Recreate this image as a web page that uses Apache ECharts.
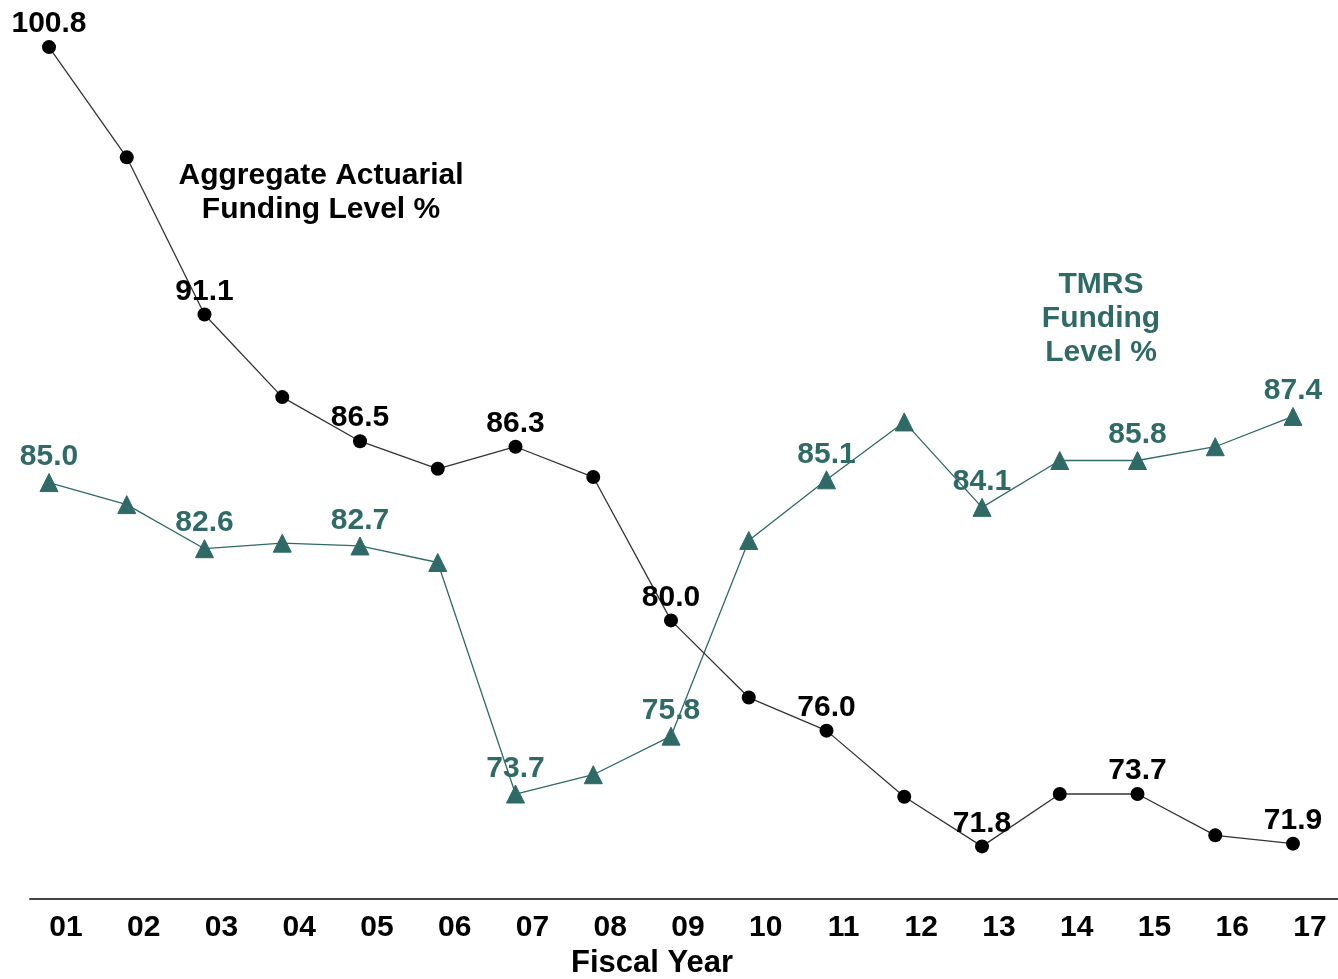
<!DOCTYPE html>
<html>
<head>
<meta charset="utf-8">
<script src="https://cdn.jsdelivr.net/npm/echarts@6/dist/echarts.min.js"></script>
<style>
  html, body { margin: 0; padding: 0; background: #fff; }
  #chart { width: 1338px; height: 979px; }
</style>
</head>
<body>
<div id="chart"></div>
<script>
// Fiscal years on the x axis
const years = ['01','02','03','04','05','06','07','08','09','10','11','12','13','14','15','16','17'];

// Aggregate actuarial funding level (%)
const aggregateLevel = [100.8, 96.8, 91.1, 88.1, 86.5, 85.5, 86.3, 85.2, 80.0, 77.2, 76.0, 73.6, 71.8, 73.7, 73.7, 72.2, 71.9];

// TMRS funding level (%)
const tmrsLevel = [85.0, 84.2, 82.6, 82.8, 82.7, 82.1, 73.7, 74.4, 75.8, 82.9, 85.1, 87.2, 84.1, 85.8, 85.8, 86.3, 87.4];

// Every other year carries a value label
const labelledYears = [0, 2, 4, 6, 8, 10, 12, 14, 16];

const TEAL = '#2f6a67';
const FONT = '"Liberation Sans", Arial, sans-serif';

function withLabels(values, color) {
  return values.map((v, i) => ({
    value: v,
    label: { show: labelledYears.indexOf(i) >= 0, color: color }
  }));
}

const chart = echarts.init(document.getElementById('chart'));

chart.setOption({
  animation: false,
  backgroundColor: '#ffffff',
  textStyle: { fontFamily: FONT },
  grid: [
    { left: 49, right: 45, top: 14, bottom: 83 },
    { left: 30, right: 0, top: 14, bottom: 80 }
  ],
  xAxis: [
    {
      type: 'category',
      gridIndex: 0,
      data: years,
      boundaryGap: false,
      axisLine: { show: false },
      axisTick: { show: false },
      axisLabel: {
        margin: 17,
        padding: [0, 0, 0, 34],
        color: '#000',
        fontSize: 30,
        fontWeight: 'bold',
        fontFamily: FONT
      },
      splitLine: { show: false }
    },
    {
      // baseline rule running across the full width
      type: 'value',
      gridIndex: 1,
      min: 0,
      max: 1,
      axisLine: { show: true, onZero: false, lineStyle: { color: '#444', width: 2 } },
      axisTick: { show: false },
      axisLabel: { show: false },
      splitLine: { show: false }
    }
  ],
  yAxis: [
    {
      type: 'value',
      gridIndex: 0,
      min: 70,
      max: 102,
      show: false,
      splitLine: { show: false }
    },
    {
      type: 'value',
      gridIndex: 1,
      show: false,
      splitLine: { show: false }
    }
  ],
  series: [
    {
      name: 'TMRS Funding Level %',
      type: 'line',
      xAxisIndex: 0,
      yAxisIndex: 0,
      data: withLabels(tmrsLevel, TEAL),
      symbol: 'triangle',
      symbolSize: 18,
      itemStyle: { color: TEAL, borderColor: TEAL, borderWidth: 1, borderJoin: 'round' },
      lineStyle: { color: TEAL, width: 1.3 },
      label: {
        position: 'top',
        distance: 1,
        fontSize: 30,
        fontWeight: 'bold',
        fontFamily: FONT,
        formatter: p => p.value.toFixed(1)
      },
      z: 2
    },
    {
      name: 'Aggregate Actuarial Funding Level %',
      type: 'line',
      xAxisIndex: 0,
      yAxisIndex: 0,
      data: withLabels(aggregateLevel, '#000'),
      symbol: 'circle',
      symbolSize: 14,
      itemStyle: { color: '#000' },
      lineStyle: { color: '#333', width: 1.3 },
      label: {
        position: 'top',
        distance: 1,
        fontSize: 30,
        fontWeight: 'bold',
        fontFamily: FONT,
        formatter: p => p.value.toFixed(1)
      },
      z: 3
    }
  ],
  graphic: [
    {
      type: 'text',
      x: 321, y: 193,
      style: {
        text: 'Aggregate Actuarial\nFunding Level %',
        fill: '#000',
        font: 'bold 30px ' + FONT,
        align: 'center',
        verticalAlign: 'middle',
        lineHeight: 34
      }
    },
    {
      type: 'text',
      x: 1101, y: 319,
      style: {
        text: 'TMRS\nFunding\nLevel %',
        fill: TEAL,
        font: 'bold 30px ' + FONT,
        align: 'center',
        verticalAlign: 'middle',
        lineHeight: 34
      }
    },
    {
      type: 'text',
      x: 652, y: 963,
      style: {
        text: 'Fiscal Year',
        fill: '#000',
        font: 'bold 31px ' + FONT,
        align: 'center',
        verticalAlign: 'middle'
      }
    }
  ]
});
</script>
</body>
</html>
